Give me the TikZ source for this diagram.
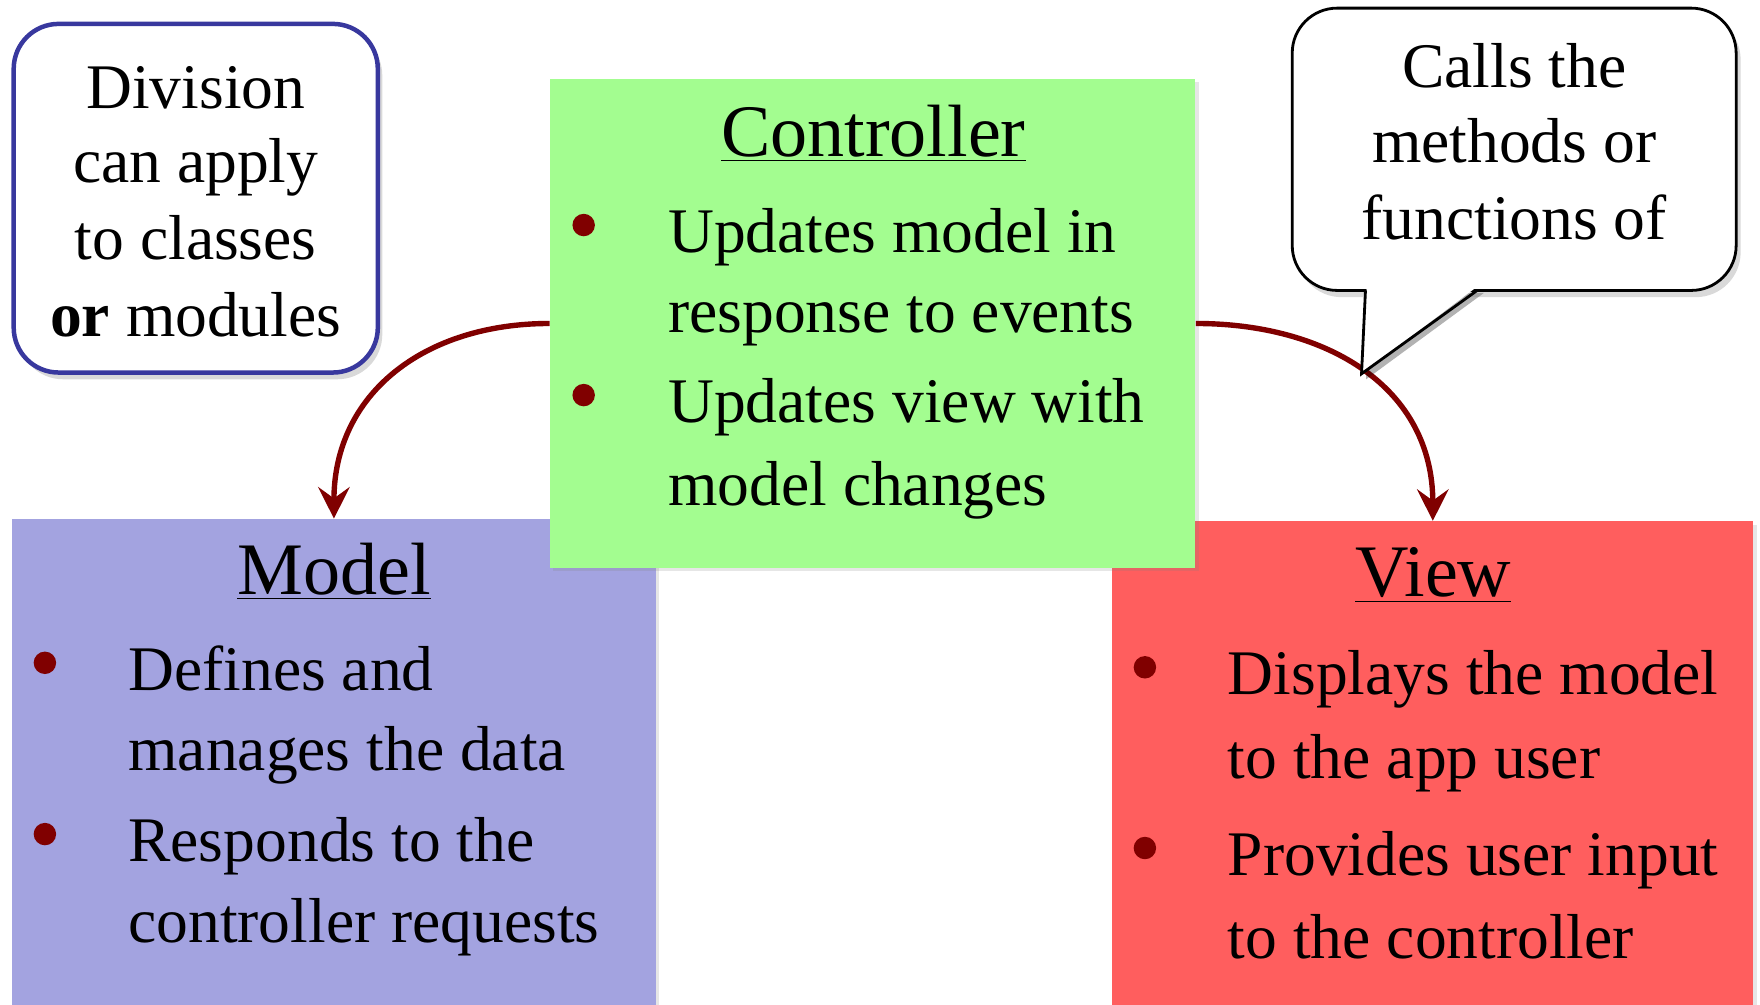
\documentclass[tikz,border=0pt]{standalone}
\usepackage{fontspec}
\setmainfont{Liberation Serif}
\usetikzlibrary{arrows.meta,shadows}

\definecolor{ctrlgreen}{RGB}{163,253,144}
\definecolor{modelblue}{RGB}{163,163,224}
\definecolor{viewred}{RGB}{255,94,94}
\definecolor{noteblue}{RGB}{56,56,158}
\definecolor{darkred}{RGB}{128,0,0}

\tikzset{
	partbox/.style={rectangle, inner sep=0pt,
		drop shadow={shadow xshift=1.5pt, shadow yshift=-1.5pt, opacity=0.2}},
	notebox/.style={rounded corners=20pt, fill=white, inner sep=0pt,
		drop shadow={shadow xshift=2pt, shadow yshift=-3pt, opacity=0.3}},
	titletext/.style={anchor=base, inner sep=0pt, font=\fontsize{33pt}{40pt}\selectfont},
	itemtext/.style={anchor=base west, inner sep=0pt, font=\fontsize{28.3pt}{34pt}\selectfont},
	notetext/.style={anchor=base, inner sep=0pt, font=\fontsize{28.3pt}{34pt}\selectfont},
	itemdot/.style={circle, fill=darkred, inner sep=0pt, minimum size=10pt},
	calls/.style={-{Stealth[length=14pt, width=14pt, inset=5pt]}, draw=darkred, line width=2.4pt},
}

\begin{document}
\begin{tikzpicture}[x=0.5pt, y=0.5pt]
	\useasboundingbox (0,0) rectangle (1568,895);

	% model and view
	\node[partbox, fill=modelblue, anchor=north, minimum width=286.5pt, minimum height=230pt] (model) at (297.5,433) {};
	\node[partbox, fill=viewred, anchor=north, minimum width=285.5pt, minimum height=230pt] (view) at (1276.5,431) {};

	% controller, with the two calls
	\coordinate (ctrlmid) at (777.5,606.8);
	\node[partbox, fill=ctrlgreen, minimum width=287.5pt, minimum height=217.8pt] (ctrl) at (ctrlmid) {};
	\draw[calls] (ctrl.west) to[out=180, in=90, looseness=1.1] (model.north);
	\draw[calls] (ctrl.east) to[out=0, in=90, looseness=1.1] (view.north);

	% titles
	\node[titletext] (ctrl-title) at (778,755.4) {\underline{Controller}};
	\node[titletext] (model-title) at (297.5,365) {\underline{Model}};
	\node[titletext] (view-title) at (1277,363.4) {\underline{View}};

	% bullet lines
	\foreach \txt/\y [count=\i] in {Updates model in/670, response to events/598.6,
		Updates view with/518.5, model changes/445}
		\node[itemtext] (ctrl-\i) at (595,\y) {\txt};
	\foreach \txt/\y [count=\i] in {Defines and/280, manages the data/208.5,
		Responds to the/127.4, controller requests/55}
		\node[itemtext] (model-\i) at (114,\y) {\txt};
	\foreach \txt/\y [count=\i] in {Displays the model/276, to the app user/201,
		Provides user input/115, to the controller/41.4}
		\node[itemtext] (view-\i) at (1093.6,\y) {\txt};

	% bullets
	\foreach \y [count=\i] in {670,518.5}
		\node[itemdot] (ctrl-dot-\i) at (520,\y+24.5) {};
	\foreach \y [count=\i] in {280,127.4}
		\node[itemdot] (model-dot-\i) at (40,\y+24.5) {};
	\foreach \y [count=\i] in {276,115}
		\node[itemdot] (view-dot-\i) at (1020,\y+24.5) {};

	% note on the left
	\node[notebox, draw=noteblue, line width=2pt, minimum width=162.2pt, minimum height=155.3pt] (division) at (174.4,718.4) {};
	\foreach \txt/\y [count=\i] in {Division/798.5, can apply/732.3,
		to classes/663.4, \textbf{or} modules/595}
		\node[notetext] (division-\i) at (174.4,\y) {\txt};

	% speech bubble
	\fill[black, opacity=0.3] (1220,634) -- (1217,557) -- (1322,634) -- cycle;
	\node[notebox, draw=black, line width=1.25pt, minimum width=197.75pt, minimum height=125.75pt] (bubble) at (1349,762) {};
	\coordinate (bubble-tip) at (1213,562);
	\fill[white] (1217.5,638.5) -- (bubble-tip) -- (1314.5,638.5) -- cycle;
	\draw[line width=1.25pt] (1216.5,636.25) -- (bubble-tip) -- (1316,636.25);
	\foreach \txt/\y [count=\i] in {Calls the/816.7, methods or/750.6, functions of/681.4}
		\node[notetext] (bubble-\i) at (1349,\y) {\txt};
\end{tikzpicture}
\end{document}
